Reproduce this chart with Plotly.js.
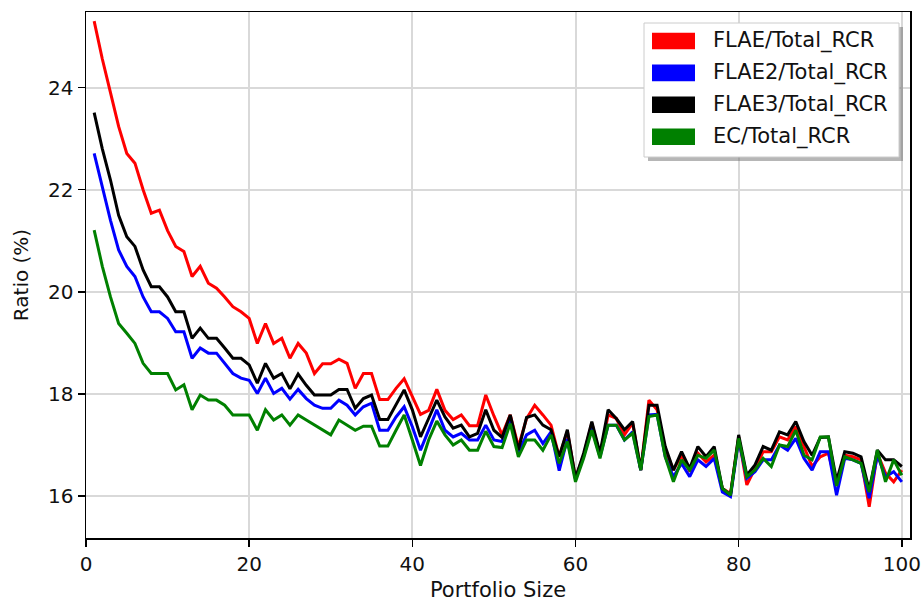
<!DOCTYPE html>
<html>
<head>
<meta charset="utf-8">
<script src="https://cdn.plot.ly/plotly-3.0.1.min.js"></script>
<style>html,body{margin:0;padding:0;background:#fff;}#chart{width:922px;height:602px;}</style>
</head>
<body>
<div id="chart"></div>
<script>
// ---- data ----
const portfolioSize = Array.from({length: 100}, (_, i) => i + 1);

const seriesNames = ["FLAE/Total_RCR", "FLAE2/Total_RCR", "FLAE3/Total_RCR", "EC/Total_RCR"];
const seriesColors = ["#ff0000", "#0000ff", "#000000", "#008000"];

const flae = [
  25.3, 24.56, 23.9, 23.24, 22.71, 22.52, 22.0, 21.54, 21.6, 21.2,
  20.89, 20.79, 20.3, 20.5, 20.17, 20.07, 19.9, 19.71, 19.61, 19.48,
  18.99, 19.38, 18.99, 19.09, 18.7, 18.99, 18.8, 18.4, 18.59, 18.59,
  18.68, 18.6, 18.11, 18.4, 18.4, 17.89, 17.89, 18.11, 18.3, 17.95,
  17.6, 17.68, 18.09, 17.68, 17.5, 17.59, 17.38, 17.38, 17.98, 17.57,
  17.2, 17.59, 16.97, 17.52, 17.78, 17.59, 17.39, 16.77, 17.27, 16.35,
  16.8, 17.43, 16.8, 17.59, 17.52, 17.2, 17.43, 16.51, 17.88, 17.69,
  16.9, 16.51, 16.8, 16.48, 16.84, 16.67, 16.8, 16.15, 16.05, 17.16,
  16.22, 16.54, 16.87, 16.87, 17.16, 17.1, 17.36, 16.97, 16.58, 16.77,
  16.84, 16.2, 16.8, 16.77, 16.71, 15.79, 16.84, 16.45, 16.28, 16.51
];
const flae2 = [
  22.71, 22.06, 21.4, 20.82, 20.5, 20.3, 19.9, 19.61, 19.61, 19.48,
  19.22, 19.22, 18.7, 18.9, 18.8, 18.8, 18.6, 18.4, 18.31, 18.27,
  18.01, 18.31, 18.01, 18.11, 17.9, 18.09, 17.91, 17.78, 17.72, 17.72,
  17.88, 17.78, 17.59, 17.75, 17.82, 17.29, 17.29, 17.55, 17.75, 17.36,
  16.9, 17.29, 17.69, 17.29, 17.16, 17.23, 17.1, 17.1, 17.39, 17.1,
  17.07, 17.52, 16.84, 17.2, 17.29, 17.03, 17.26, 16.5, 17.12, 16.33,
  16.78, 17.33, 16.77, 17.39, 17.39, 17.1, 17.26, 16.51, 17.59, 17.6,
  16.77, 16.38, 16.64, 16.38, 16.71, 16.58, 16.74, 16.08, 15.99, 17.1,
  16.35, 16.48, 16.71, 16.71, 17.0, 16.9, 17.13, 16.74, 16.51, 16.87,
  16.87, 16.02, 16.74, 16.71, 16.64, 15.96, 16.8, 16.38, 16.48, 16.28
];
const flae3 = [
  23.51, 22.8, 22.19, 21.5, 21.08, 20.89, 20.43, 20.1, 20.1, 19.9,
  19.61, 19.61, 19.09, 19.29, 19.09, 19.09, 18.9, 18.7, 18.7, 18.57,
  18.21, 18.6, 18.31, 18.4, 18.1, 18.39, 18.17, 17.98, 17.98, 17.98,
  18.09, 18.09, 17.72, 17.91, 17.98, 17.5, 17.5, 17.78, 18.08, 17.69,
  17.16, 17.52, 17.88, 17.55, 17.33, 17.39, 17.16, 17.23, 17.69, 17.29,
  17.15, 17.59, 16.9, 17.54, 17.59, 17.39, 17.3, 16.77, 17.3, 16.35,
  16.84, 17.46, 16.84, 17.69, 17.52, 17.3, 17.46, 16.51, 17.78, 17.78,
  16.97, 16.51, 16.87, 16.54, 16.97, 16.77, 16.97, 16.15, 16.02, 17.2,
  16.41, 16.61, 16.97, 16.9, 17.26, 17.2, 17.46, 17.07, 16.8, 17.15,
  17.16, 16.3, 16.87, 16.84, 16.77, 16.12, 16.9, 16.71, 16.71, 16.58
];
const ec = [
  21.21, 20.5, 19.9, 19.38, 19.19, 18.99, 18.6, 18.4, 18.4, 18.4,
  18.08, 18.18, 17.69, 17.98, 17.88, 17.88, 17.78, 17.59, 17.59, 17.59,
  17.29, 17.69, 17.49, 17.59, 17.39, 17.59, 17.49, 17.39, 17.29, 17.2,
  17.49, 17.39, 17.29, 17.37, 17.37, 16.98, 16.98, 17.29, 17.59, 17.1,
  16.6, 17.1, 17.47, 17.2, 17.0, 17.1, 16.9, 16.9, 17.27, 16.97,
  16.95, 17.42, 16.77, 17.1, 17.1, 16.9, 17.2, 16.64, 17.07, 16.28,
  16.74, 17.29, 16.74, 17.39, 17.39, 17.1, 17.23, 16.51, 17.56, 17.59,
  16.77, 16.28, 16.71, 16.51, 16.8, 16.74, 16.9, 16.15, 16.02, 17.13,
  16.38, 16.51, 16.74, 16.58, 17.0, 16.97, 17.29, 16.8, 16.71, 17.16,
  17.16, 16.2, 16.77, 16.71, 16.64, 16.08, 16.9, 16.28, 16.71, 16.41
];
const seriesValues = [flae, flae2, flae3, ec];

const xTickVals = [0, 20, 40, 60, 80, 100];
const yTickVals = [16, 18, 20, 22, 24];

// ---- layout helpers ----
const W = 922, H = 602;
const M = {l: 86, r: 12, t: 12, b: 64};
const plotW = W - M.l - M.r, plotH = H - M.t - M.b;
const px = v => (v - M.l) / plotW;        // pixel x -> paper
const py = v => (H - M.b - v) / plotH;    // pixel y -> paper

const FONT = "DejaVu Sans, Liberation Sans, sans-serif";

const traces = seriesNames.map((name, i) => ({
  type: "scatter",
  mode: "lines",
  name: name,
  x: portfolioSize,
  y: seriesValues[i],
  line: {color: seriesColors[i], width: 3},
  showlegend: false,
  hoverinfo: "x+y+name"
}));

// manual matplotlib-style legend (patches + labels)
const shapes = [];
const annotations = [];
const box = {x0: 644, x1: 899, y0: 23, y1: 157};
shapes.push({type: "rect", xref: "paper", yref: "paper", layer: "above",
  x0: px(box.x0 + 4), x1: px(box.x1 + 4), y0: py(box.y1 + 4), y1: py(box.y0 + 4),
  fillcolor: "rgba(110,110,110,0.5)", line: {width: 0}});
shapes.push({type: "rect", xref: "paper", yref: "paper", layer: "above",
  x0: px(box.x0), x1: px(box.x1), y0: py(box.y1), y1: py(box.y0),
  fillcolor: "#ffffff", line: {color: "#cccccc", width: 1}});
seriesNames.forEach((name, i) => {
  const cy = 41 + i * 31.9;
  shapes.push({type: "rect", xref: "paper", yref: "paper", layer: "above",
    x0: px(652), x1: px(695), y0: py(cy + 8.3), y1: py(cy - 8.3),
    fillcolor: seriesColors[i], line: {width: 0}});
  annotations.push({xref: "paper", yref: "paper", x: px(711), y: py(cy),
    xanchor: "left", yanchor: "middle", showarrow: false, text: name,
    font: {family: FONT, size: 21, color: "#111"}});
});

const axisCommon = {
  showline: true, linecolor: "#000", linewidth: 1.5, mirror: true,
  ticks: "outside", ticklen: 7, tickwidth: 1.5, tickcolor: "#000",
  showgrid: true, gridcolor: "#d9d9d9", gridwidth: 2,
  zeroline: false,
  tickfont: {family: FONT, size: 20, color: "#111"}
};

const layout = {
  width: W, height: H,
  margin: M,
  paper_bgcolor: "#fff", plot_bgcolor: "#fff",
  showlegend: false,
  xaxis: Object.assign({}, axisCommon, {
    range: [0, 101], tickmode: "array", tickvals: xTickVals,
    ticktext: xTickVals.map(String),
    title: {text: "Portfolio Size", font: {family: FONT, size: 21, color: "#111"}, standoff: 12}
  }),
  yaxis: Object.assign({}, axisCommon, {
    range: [15.18, 25.48], tickmode: "array", tickvals: yTickVals,
    ticktext: yTickVals.map(String),
    title: {text: "Ratio (%)", font: {family: FONT, size: 20, color: "#111"}, standoff: 14}
  }),
  shapes: shapes,
  annotations: annotations
};

Plotly.newPlot("chart", traces, layout, {displayModeBar: false, staticPlot: true});
</script>
</body>
</html>
